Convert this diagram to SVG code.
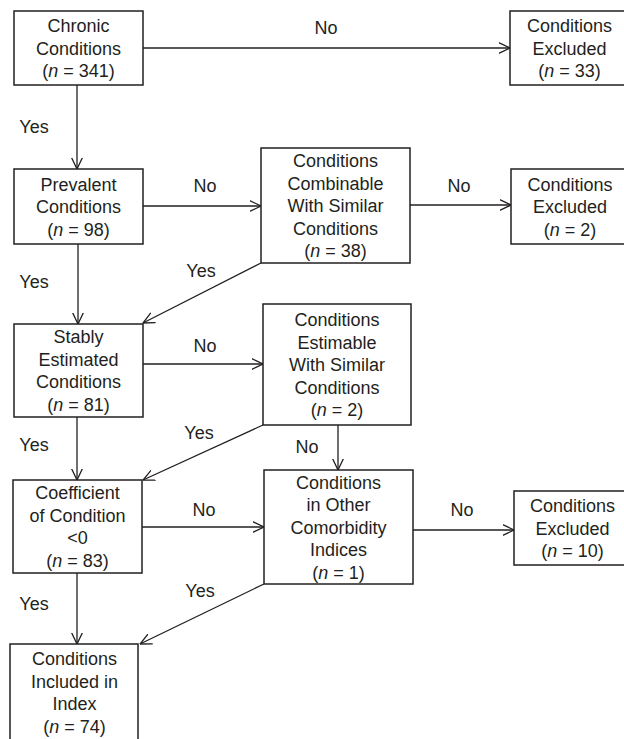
<svg xmlns="http://www.w3.org/2000/svg" width="624" height="739" viewBox="0 0 624 739">
<style>
text{font-family:"Liberation Sans",Arial,sans-serif;font-size:18px;fill:#231f20;text-anchor:middle}
.box{fill:#fff;stroke:#231f20;stroke-width:1.5}
.c{stroke:#231f20;stroke-width:1.3;fill:none;marker-end:url(#ah)}
.i{font-style:italic}
</style>
<defs>
<marker id="ah" viewBox="0 0 12 12" refX="11.5" refY="6" markerWidth="12" markerHeight="12" markerUnits="userSpaceOnUse" orient="auto">
<path d="M0,0.5 L11.5,6 L0,11.5" fill="none" stroke="#231f20" stroke-width="1.3"/>
</marker>
</defs>
<rect width="624" height="739" fill="#fff"/>
<g id="connectors">
<line class="c" x1="143" y1="48" x2="510" y2="48"/>
<line class="c" x1="77" y1="85" x2="77" y2="169"/>
<line class="c" x1="143" y1="206" x2="261" y2="206"/>
<line class="c" x1="410" y1="205" x2="511" y2="205"/>
<line class="c" x1="78" y1="244" x2="78" y2="324"/>
<line class="c" x1="261" y1="263" x2="143" y2="323"/>
<line class="c" x1="143" y1="364" x2="263" y2="364"/>
<line class="c" x1="77" y1="417" x2="77" y2="480"/>
<line class="c" x1="263" y1="425" x2="143" y2="480"/>
<line class="c" x1="338" y1="425" x2="338" y2="470"/>
<line class="c" x1="142" y1="527" x2="264" y2="527"/>
<line class="c" x1="413" y1="530" x2="514" y2="530"/>
<line class="c" x1="77" y1="573" x2="77" y2="644"/>
<line class="c" x1="264" y1="584" x2="140" y2="644"/>
<text x="326" y="33.5">No</text>
<text x="34" y="132.5">Yes</text>
<text x="205" y="191.5">No</text>
<text x="459" y="191.5">No</text>
<text x="34" y="287.5">Yes</text>
<text x="201" y="276.5">Yes</text>
<text x="205" y="351.5">No</text>
<text x="34" y="450.5">Yes</text>
<text x="199" y="438.5">Yes</text>
<text x="307" y="452.5">No</text>
<text x="204" y="515.5">No</text>
<text x="462" y="515.5">No</text>
<text x="34" y="609.5">Yes</text>
<text x="200" y="596.5">Yes</text>
</g>
<g id="chronic">
<rect class="box" x="14" y="11" width="129" height="74"/>
<text x="78.5" y="32">Chronic</text>
<text x="78.5" y="54.5">Conditions</text>
<text x="78.5" y="77">(<tspan class="i">n</tspan> = 341)</text>
</g>
<g id="excluded33">
<rect class="box" x="510" y="11" width="120" height="74"/>
<text x="569.5" y="32">Conditions</text>
<text x="569.5" y="54.5">Excluded</text>
<text x="569.5" y="77">(<tspan class="i">n</tspan> = 33)</text>
</g>
<g id="prevalent">
<rect class="box" x="14" y="169" width="129" height="75"/>
<text x="78.5" y="190.5">Prevalent</text>
<text x="78.5" y="213">Conditions</text>
<text x="78.5" y="235.5">(<tspan class="i">n</tspan> = 98)</text>
</g>
<g id="combinable">
<rect class="box" x="261" y="148" width="149" height="115"/>
<text x="335.5" y="167">Conditions</text>
<text x="335.5" y="189.5">Combinable</text>
<text x="335.5" y="212">With Similar</text>
<text x="335.5" y="234.5">Conditions</text>
<text x="335.5" y="257">(<tspan class="i">n</tspan> = 38)</text>
</g>
<g id="excluded2">
<rect class="box" x="511" y="169" width="120" height="75"/>
<text x="570" y="190.5">Conditions</text>
<text x="570" y="213">Excluded</text>
<text x="570" y="235.5">(<tspan class="i">n</tspan> = 2)</text>
</g>
<g id="stably">
<rect class="box" x="14" y="324" width="129" height="93"/>
<text x="78.5" y="343.25">Stably</text>
<text x="78.5" y="365.75">Estimated</text>
<text x="78.5" y="388.25">Conditions</text>
<text x="78.5" y="410.75">(<tspan class="i">n</tspan> = 81)</text>
</g>
<g id="estimable">
<rect class="box" x="263" y="304" width="148" height="121"/>
<text x="337" y="326">Conditions</text>
<text x="337" y="348.5">Estimable</text>
<text x="337" y="371">With Similar</text>
<text x="337" y="393.5">Conditions</text>
<text x="337" y="416">(<tspan class="i">n</tspan> = 2)</text>
</g>
<g id="coefficient">
<rect class="box" x="13" y="480" width="129" height="93"/>
<text x="77.5" y="499.25">Coefficient</text>
<text x="77.5" y="521.75">of Condition</text>
<text x="77.5" y="544.25">&lt;0</text>
<text x="77.5" y="566.75">(<tspan class="i">n</tspan> = 83)</text>
</g>
<g id="other">
<rect class="box" x="264" y="470" width="149" height="114"/>
<text x="338.5" y="488.5">Conditions</text>
<text x="338.5" y="511">in Other</text>
<text x="338.5" y="533.5">Comorbidity</text>
<text x="338.5" y="556">Indices</text>
<text x="338.5" y="578.5">(<tspan class="i">n</tspan> = 1)</text>
</g>
<g id="excluded10">
<rect class="box" x="514" y="491" width="118" height="74"/>
<text x="572.5" y="512">Conditions</text>
<text x="572.5" y="534.5">Excluded</text>
<text x="572.5" y="557">(<tspan class="i">n</tspan> = 10)</text>
</g>
<g id="included">
<rect class="box" x="10" y="644" width="128" height="110"/>
<text x="74.5" y="665">Conditions</text>
<text x="74.5" y="687.5">Included in</text>
<text x="74.5" y="710">Index</text>
<text x="74.5" y="732.5">(<tspan class="i">n</tspan> = 74)</text>
</g>
</svg>
